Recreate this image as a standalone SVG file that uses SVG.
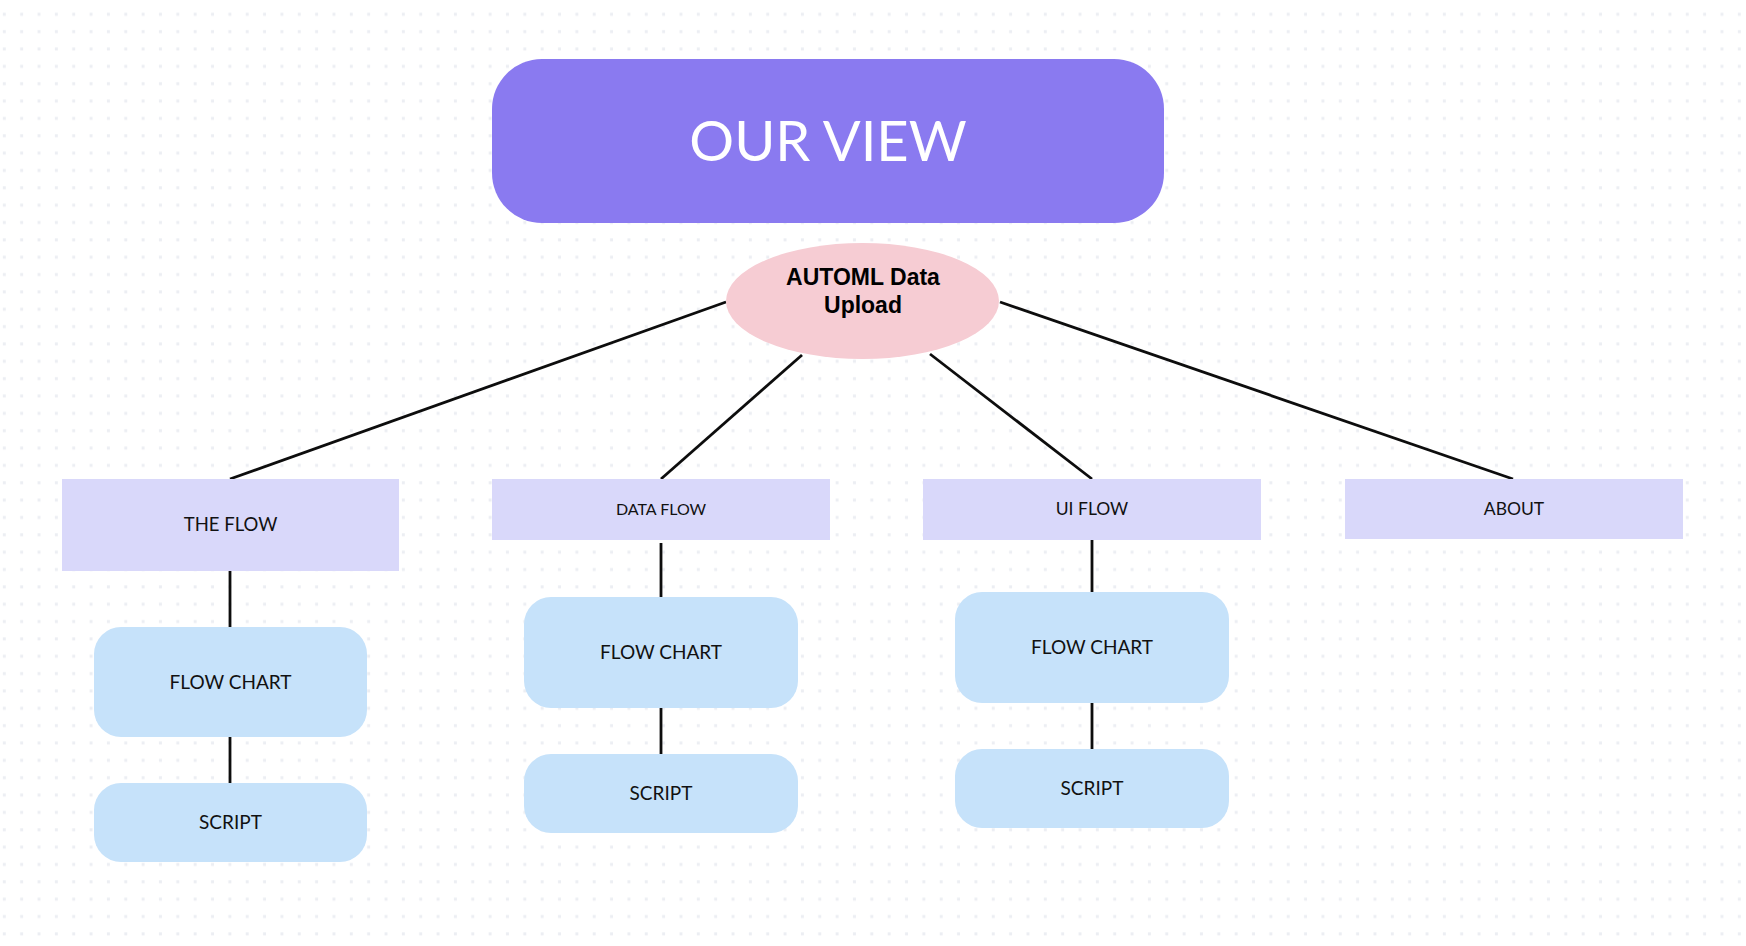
<svg xmlns="http://www.w3.org/2000/svg" width="1746" height="946" viewBox="0 0 1746 946">
<defs>
<pattern id="dots" patternUnits="userSpaceOnUse" x="0" y="0" width="17.35" height="17.35">
<rect x="2.8" y="12.8" width="3" height="3" fill="#eceef3"/>
</pattern>
</defs>
<style>
.lav{fill:#d9d8fa}
.blue{fill:#c6e2fa}
.lbl{font-family:"Lato","Liberation Sans",sans-serif;fill:#111;text-anchor:middle}
.conn line{stroke:#0d0d0d;stroke-width:2.8;stroke-linecap:butt}
</style>
<rect width="1746" height="946" fill="#ffffff"/>
<rect width="1746" height="946" fill="url(#dots)"/>

<g id="connectors" class="conn">
<line x1="726" y1="302" x2="230" y2="479"/>
<line x1="802" y1="355" x2="661" y2="479"/>
<line x1="930" y1="354" x2="1092" y2="479"/>
<line x1="1000" y1="302" x2="1513" y2="479"/>
<line x1="230" y1="571" x2="230" y2="627"/>
<line x1="230" y1="737" x2="230" y2="783"/>
<line x1="661" y1="543" x2="661" y2="597"/>
<line x1="661" y1="708" x2="661" y2="754"/>
<line x1="1092" y1="538" x2="1092" y2="592"/>
<line x1="1092" y1="703" x2="1092" y2="749"/>
</g>

<g id="title">
<rect x="492" y="59" width="672" height="164" rx="50" ry="50" fill="#8a7af0"/>
<text x="828" y="161" font-family="Lato,'Open Sans',sans-serif" font-weight="400" font-size="56" fill="#ffffff" text-anchor="middle">OUR VIEW</text>
</g>

<g id="automl">
<ellipse cx="862.5" cy="301" rx="136.5" ry="58" fill="#f6ccd3"/>
<text x="863" y="285" font-family="'Liberation Sans',Arial,sans-serif" font-weight="bold" font-size="23" fill="#000" text-anchor="middle">AUTOML Data</text>
<text x="863" y="313" font-family="'Liberation Sans',Arial,sans-serif" font-weight="bold" font-size="23" fill="#000" text-anchor="middle">Upload</text>
</g>

<g id="the-flow">
<rect class="lav" x="62" y="479" width="337" height="92"/>
<text class="lbl" x="230.5" y="531" font-size="18.5">THE FLOW</text>
</g>
<g id="data-flow">
<rect class="lav" x="492" y="479" width="338" height="61"/>
<text class="lbl" x="661" y="515" font-size="16">DATA FLOW</text>
</g>
<g id="ui-flow">
<rect class="lav" x="923" y="479" width="338" height="61"/>
<text class="lbl" x="1092" y="515" font-size="17.5">UI FLOW</text>
</g>
<g id="about">
<rect class="lav" x="1345" y="479" width="338" height="60"/>
<text class="lbl" x="1514" y="515" font-size="17.5">ABOUT</text>
</g>

<g id="flowchart-1">
<rect class="blue" x="94" y="627" width="273" height="110" rx="27"/>
<text class="lbl" x="230.5" y="689" font-size="19">FLOW CHART</text>
</g>
<g id="script-1">
<rect class="blue" x="94" y="783" width="273" height="79" rx="27"/>
<text class="lbl" x="230.5" y="829" font-size="19">SCRIPT</text>
</g>
<g id="flowchart-2">
<rect class="blue" x="524" y="597" width="274" height="111" rx="27"/>
<text class="lbl" x="661" y="659" font-size="19">FLOW CHART</text>
</g>
<g id="script-2">
<rect class="blue" x="524" y="754" width="274" height="79" rx="27"/>
<text class="lbl" x="661" y="800" font-size="19">SCRIPT</text>
</g>
<g id="flowchart-3">
<rect class="blue" x="955" y="592" width="274" height="111" rx="27"/>
<text class="lbl" x="1092" y="654" font-size="19">FLOW CHART</text>
</g>
<g id="script-3">
<rect class="blue" x="955" y="749" width="274" height="79" rx="27"/>
<text class="lbl" x="1092" y="795" font-size="19">SCRIPT</text>
</g>
</svg>
